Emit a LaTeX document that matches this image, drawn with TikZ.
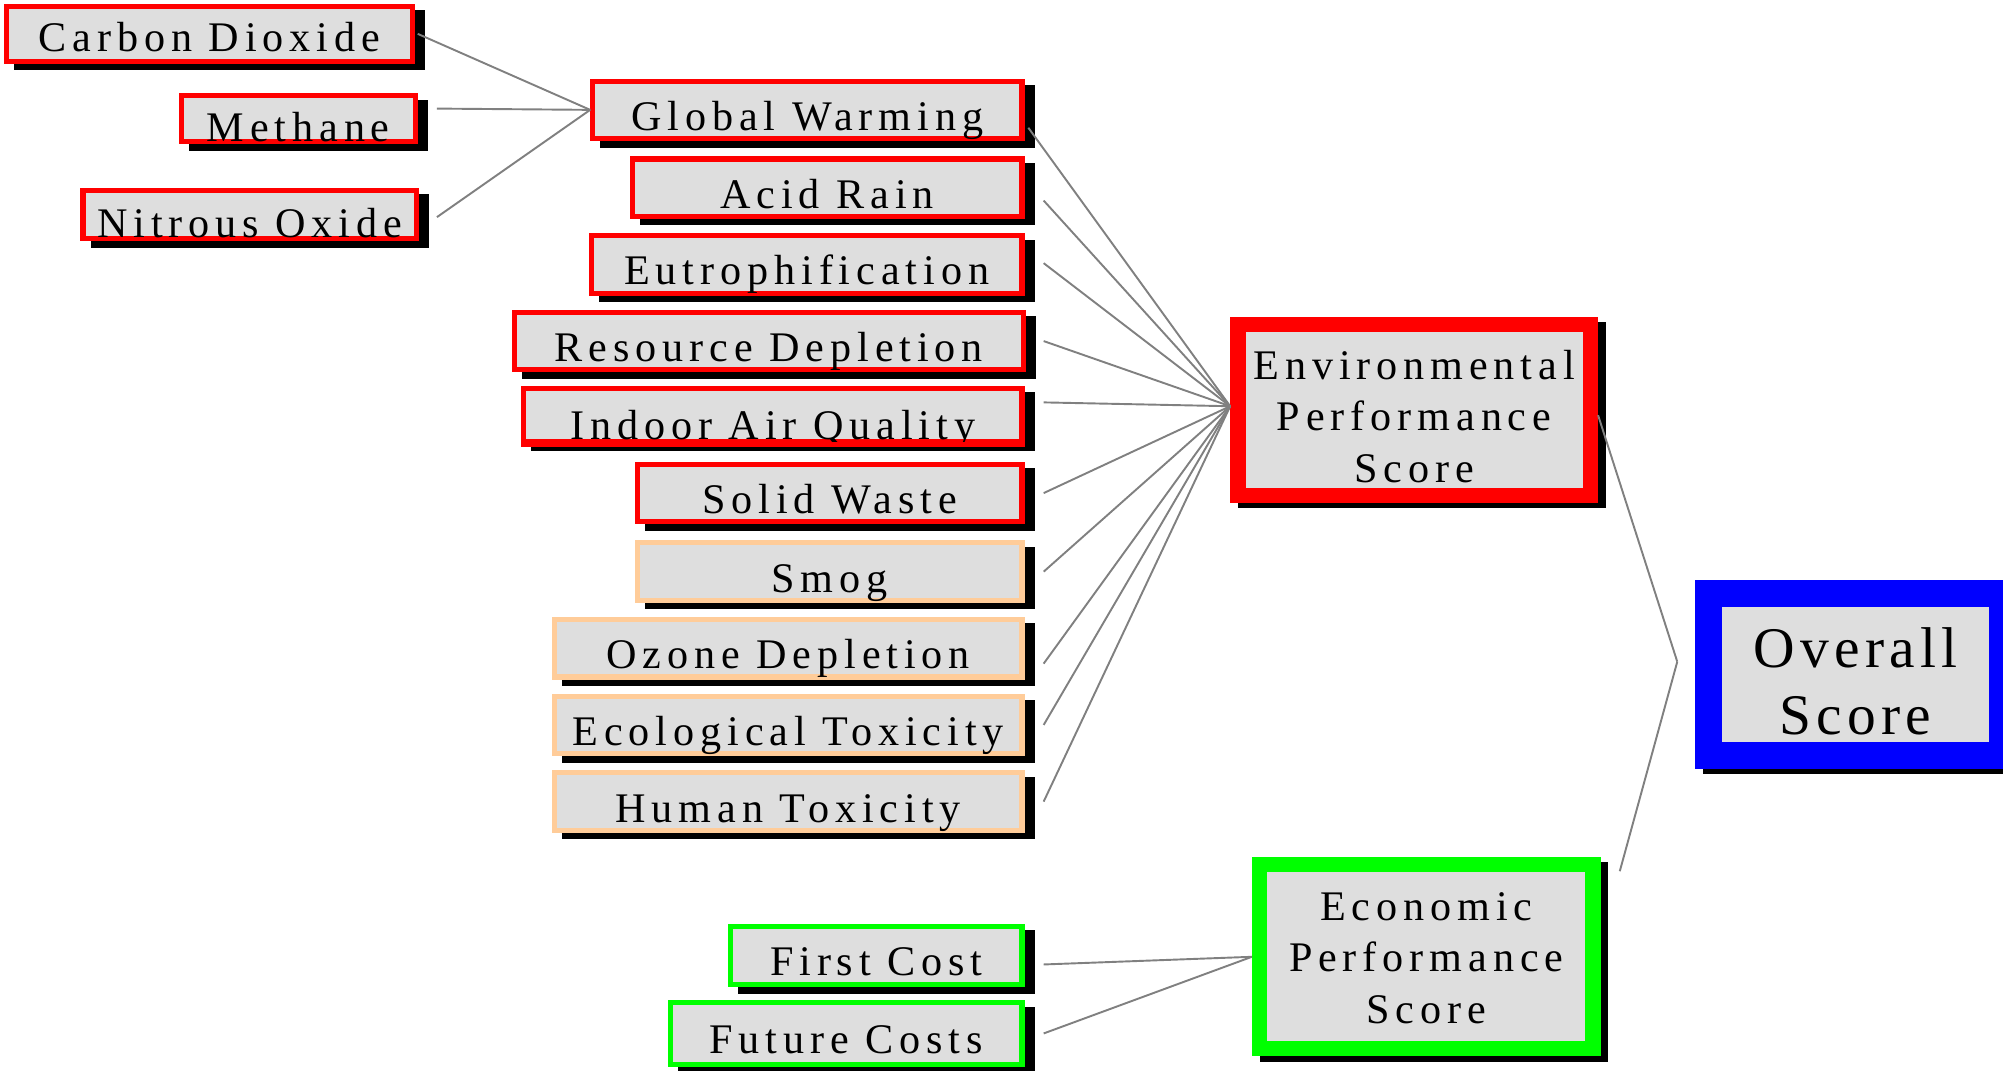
\documentclass[tikz,border=0pt]{standalone}
\usepackage{fontspec}
\usepackage{xcolor}
\usetikzlibrary{positioning,shadows}
\newfontfamily\cellfamily[LetterSpace=14]{Liberation Serif}
\newfontfamily\bigfamily[LetterSpace=9]{Liberation Serif}
\definecolor{cellgray}{RGB}{222,222,222}
\definecolor{peach}{RGB}{255,204,153}
\definecolor{limegreen}{RGB}{0,255,0}
\definecolor{linkgray}{RGB}{128,128,128}
\tikzstyle{cell} = [rectangle, fill=cellgray, line width=4pt, inner sep=0pt, text depth=0pt, text height=32pt, font=\cellfamily\fontsize{33}{40}\selectfont, drop shadow={shadow xshift=8pt, shadow yshift=-5pt, opacity=1, fill=black, draw=black}]
\tikzstyle{redcell} = [cell, draw=red]
\tikzstyle{peachcell} = [cell, draw=peach]
\tikzstyle{greencell} = [cell, draw=limegreen]
\tikzstyle{score} = [rectangle, fill=cellgray, line width=12pt, inner sep=0pt, align=center, font=\cellfamily\fontsize{33}{40}\selectfont, drop shadow={shadow xshift=6pt, shadow yshift=-4pt, opacity=1, fill=black, draw=black}]
\tikzstyle{link} = [draw=linkgray, line width=1.5pt]

\begin{document}
\begin{tikzpicture}[x=1pt, y=-1pt]
\useasboundingbox (0,0) rectangle (1568,838);
\clip (0,0) rectangle (1568,838);
% greenhouse gases
\node[redcell, minimum width=318pt, minimum height=43pt, text height=27pt] (co2) at (164,26.5) {Carbon Dioxide};
\node[redcell, minimum width=183pt, minimum height=36pt, text height=36pt] (ch4) at (233.5,93) {Methane};
\node[redcell, minimum width=261pt, minimum height=38pt, text height=36pt] (n2o) at (195.5,168) {Nitrous Oxide};
% impact categories
\node[redcell, minimum width=336pt, minimum height=45pt] (gw) at (632,86) {Global Warming};
\node[redcell, minimum width=305pt, minimum height=45pt] (acid) at (647.5,147) {Acid Rain};
\node[redcell, minimum width=337pt, minimum height=45pt] (eutro) at (631.5,207) {Eutrophification};
\node[redcell, minimum width=398pt, minimum height=45pt] (depl) at (602,267) {Resource Depletion};
\node[redcell, minimum width=390pt, minimum height=42pt, text height=38pt] (iaq) at (605,325) {Indoor Air Quality};
\draw[red, line width=4pt] (iaq.south west) -- (iaq.south east);
\node[redcell, minimum width=301pt, minimum height=45pt] (waste) at (649.5,386) {Solid Waste};
\node[peachcell, minimum width=301pt, minimum height=45pt] (smog) at (649.5,447.5) {Smog};
\node[peachcell, minimum width=366pt, minimum height=45pt] (ozone) at (617,507.5) {Ozone Depletion};
\node[peachcell, minimum width=366pt, minimum height=45pt] (ecotox) at (617,567.5) {Ecological Toxicity};
\node[peachcell, minimum width=366pt, minimum height=45pt] (humtox) at (617,627.5) {Human Toxicity};
% cost categories
\node[greencell, minimum width=228pt, minimum height=46pt] (first) at (686,748) {First Cost};
\node[greencell, minimum width=275pt, minimum height=48pt] (future) at (662.5,809) {Future Costs};
% scores
\node[score, draw=red, minimum width=276pt, minimum height=134pt] (env) at (1107,321) {\rule{0pt}{33pt}Environmental\\Performance\\Score};
\node[score, draw=limegreen, minimum width=261pt, minimum height=144pt] (eco) at (1116.5,749) {\rule{0pt}{24pt}Economic\\Performance\\Score};
\node[score, draw=blue, line width=21pt, minimum width=230pt, minimum height=127pt, font=\bigfamily\fontsize{45}{52}\selectfont, drop shadow={shadow xshift=6pt, shadow yshift=-2pt, opacity=1, fill=black, draw=black}] (ovr) at (1452.5,528) {\rule{0pt}{42pt}Overall\\Score};
% links
\draw[link] ([xshift=2pt]co2.east) -- (gw.west);
\draw[link] ([xshift=15pt,yshift=8pt]ch4.east) -- (gw.west);
\draw[link] ([xshift=14pt,yshift=-2pt]n2o.east) -- (gw.west);
\draw[link] ([xshift=3pt,yshift=-14pt]gw.east) -- ([yshift=3pt]env.west);
\draw[link] ([xshift=15pt,yshift=-10pt]acid.east) -- ([yshift=3pt]env.west);
\draw[link] ([xshift=15pt,yshift=1pt]eutro.east) -- ([yshift=3pt]env.west);
\draw[link] ([xshift=14pt]depl.east) -- ([yshift=3pt]env.west);
\draw[link] ([xshift=15pt,yshift=10pt]iaq.east) -- ([yshift=3pt]env.west);
\draw[link] ([xshift=15pt]waste.east) -- ([yshift=3pt]env.west);
\draw[link] ([xshift=15pt]smog.east) -- ([yshift=3pt]env.west);
\draw[link] ([xshift=15pt,yshift=-12pt]ozone.east) -- ([yshift=3pt]env.west);
\draw[link] ([xshift=15pt]ecotox.east) -- ([yshift=3pt]env.west);
\draw[link] ([xshift=15pt]humtox.east) -- ([yshift=3pt]env.west);
\draw[link] ([xshift=15pt,yshift=-7pt]first.east) -- (eco.west);
\draw[link] ([xshift=15pt]future.east) -- (eco.west);
\draw[link] ([yshift=-4pt]env.east) -- ([xshift=-14pt,yshift=10pt]ovr.west);
\draw[link] ([xshift=15pt,yshift=-11pt]eco.north east) -- ([xshift=-14pt,yshift=10pt]ovr.west);
\end{tikzpicture}
\end{document}
